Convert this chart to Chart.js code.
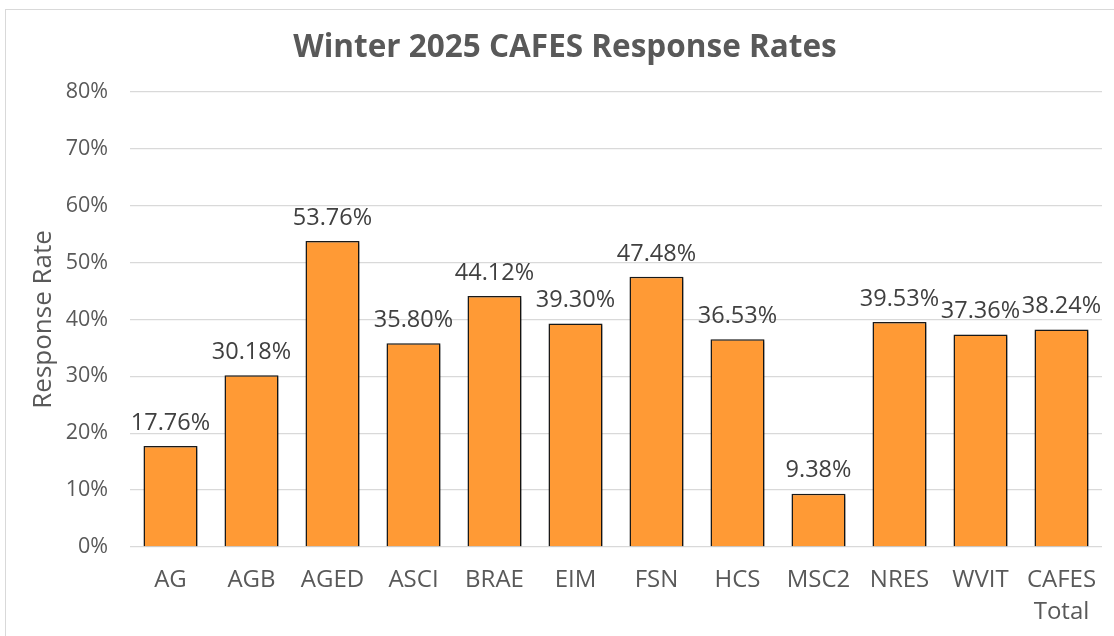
<!DOCTYPE html>
<html>
<head>
<meta charset="utf-8">
<script src="https://cdn.jsdelivr.net/npm/chart.js@4"></script>
<style>
  html, body { margin: 0; padding: 0; background: #fff; overflow: hidden; }
  #frame { position: absolute; left: 5px; top: 9px; width: 1130px; height: 650px; border: 1px solid #d9d9d9; }
  #wrap { position: absolute; left: 0; top: 0; width: 1114px; height: 636px; }
</style>
</head>
<body>
<div id="frame"></div>
<div id="wrap"><canvas id="chart" width="1114" height="636"></canvas></div>
<script>
// Dados do gráfico
const categories = ['AG', 'AGB', 'AGED', 'ASCI', 'BRAE', 'EIM', 'FSN', 'HCS', 'MSC2', 'NRES', 'WVIT', ['CAFES', 'Total']];
const responseRates = [17.76, 30.18, 53.76, 35.80, 44.12, 39.30, 47.48, 36.53, 9.38, 39.53, 37.36, 38.24];
const yTicks = [0, 10, 20, 30, 40, 50, 60, 70, 80];

const FONT = "'Open Sans', 'Liberation Sans', sans-serif";
const TEXT = '#595959';

// Rótulos de valor acima das barras
const valueLabels = {
    id: 'valueLabels',
    afterDatasetsDraw(chart) {
        const ctx = chart.ctx;
        const meta = chart.getDatasetMeta(0);
        ctx.save();
        ctx.font = `23.5px ${FONT}`;
        ctx.fillStyle = '#404040';
        ctx.textAlign = 'center';
        ctx.textBaseline = 'middle';
        meta.data.forEach((bar, i) => {
            ctx.fillText(responseRates[i].toFixed(2) + '%', bar.x, bar.y - 23);
        });
        ctx.restore();
    }
};

// Sombra leve nas barras
const barShadow = {
    id: 'barShadow',
    beforeDatasetDraw(chart) {
        const ctx = chart.ctx;
        ctx.save();
        ctx.shadowColor = 'rgba(0,0,0,0.35)';
        ctx.shadowBlur = 3;
        ctx.shadowOffsetX = 1.5;
        ctx.shadowOffsetY = 1.5;
    },
    afterDatasetDraw(chart) {
        chart.ctx.restore();
    }
};

new Chart(document.getElementById('chart'), {
    type: 'bar',
    data: {
        labels: categories,
        datasets: [{
            label: 'Response Rate',
            data: responseRates,
            backgroundColor: '#FF9A35',
            borderColor: '#1a1a1a',
            borderWidth: 1.5,
            barPercentage: 0.667,
            categoryPercentage: 1
        }]
    },
    options: {
        responsive: false,
        animation: false,
        layout: { padding: { top: 10, right: 12, bottom: 0, left: 28 } },
        plugins: {
            legend: { display: false },
            tooltip: { enabled: false },
            title: {
                display: true,
                text: 'Winter 2025 CAFES Response Rates',
                color: TEXT,
                font: { family: FONT, size: 31.5, weight: 'bold', lineHeight: 1.2 },
                padding: { top: 19, bottom: 25 }
            }
        },
        scales: {
            x: {
                grid: { display: false, drawTicks: false },
                border: { display: false },
                ticks: {
                    color: TEXT,
                    font: { family: FONT, size: 24, lineHeight: 1.35 },
                    padding: 17,
                    maxRotation: 0,
                    autoSkip: false
                },
                afterFit(scale) { scale.height = 89; }
            },
            y: {
                min: 0,
                max: 80,
                afterBuildTicks(scale) { scale.ticks = yTicks.map(v => ({ value: v })); },
                grid: { color: '#d9d9d9', lineWidth: 1.3, drawTicks: false },
                border: { display: false },
                ticks: {
                    color: TEXT,
                    font: { family: FONT, size: 21.5 },
                    padding: 22,
                    callback: v => v + '%'
                },
                title: {
                    display: true,
                    text: 'Response Rate',
                    color: TEXT,
                    font: { family: FONT, size: 26 },
                    padding: { top: 0, bottom: 0 }
                },
                afterFit(scale) { scale.width = 102; }
            }
        }
    },
    plugins: [barShadow, valueLabels]
});
</script>
</body>
</html>
